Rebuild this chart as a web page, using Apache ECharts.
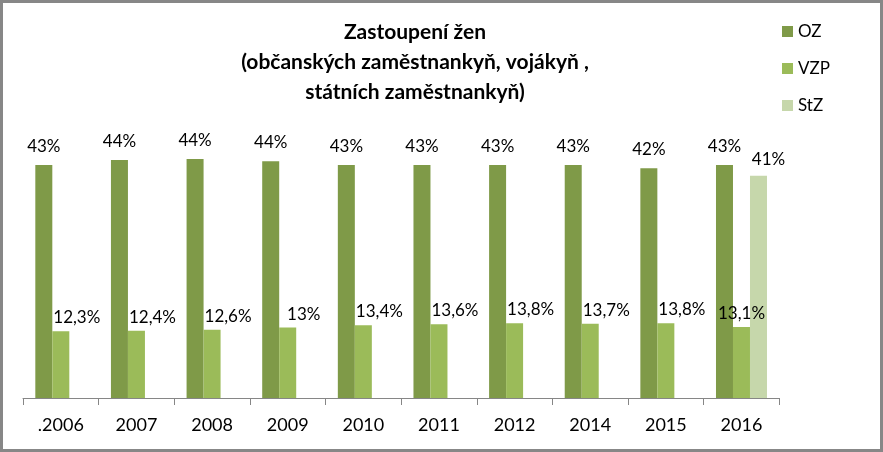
<!DOCTYPE html>
<html>
<head>
<meta charset="utf-8">
<script src="https://cdn.jsdelivr.net/npm/echarts@6/dist/echarts.min.js"></script>
<style>
html,body{margin:0;padding:0;background:#fff;}
#chart{width:883px;height:452px;}
</style>
</head>
<body>
<div id="chart"></div>
<script>
const categories = ['.2006','2007','2008','2009','2010','2011','2012','2014','2015','2016'];
const ozValues = [43.0, 43.9, 44.1, 43.7, 43.0, 43.0, 43.0, 43.0, 42.4, 43.0];
const vzpValues = [12.3, 12.4, 12.6, 13, 13.4, 13.6, 13.8, 13.7, 13.8, 13.1];
const stzValues = [null, null, null, null, null, null, null, null, null, 41];
const seriesNames = ['OZ', 'VZP', 'StZ'];

const FONT = 'Lato, "Open Sans", sans-serif';
const chart = echarts.init(document.getElementById('chart'), null, {renderer: 'canvas'});

const pctRound = p => Math.round(p.value) + '%';
const pctComma = p => String(p.value).replace('.', ',') + '%';

const vzpData = vzpValues.map((v, i) => stzValues[i] != null
  ? {value: v, label: {offset: [0, 0]}}
  : v);

const option = {
  animation: false,
  backgroundColor: '#fff',
  textStyle: {fontFamily: FONT},
  title: {
    text: 'Zastoupení žen\n(občanských zaměstnankyň, vojákyň ,\nstátních zaměstnankyň)',
    left: 410,
    top: 12,
    textAlign: 'center',
    textStyle: {fontFamily: FONT, fontWeight: 'bold', fontSize: 21, lineHeight: 30, color: '#000'}
  },
  legend: {
    orient: 'vertical',
    left: 777,
    top: 18,
    itemWidth: 11,
    itemHeight: 11,
    itemGap: 20,
    icon: 'rect',
    textStyle: {fontFamily: FONT, fontSize: 17, color: '#000', padding: [0, 0, 0, 0]},
    data: seriesNames
  },
  grid: {left: 23, right: 103.7, top: 127, bottom: 54, containLabel: false},
  xAxis: {
    type: 'category',
    data: categories,
    axisLine: {lineStyle: {color: '#868686', width: 1}},
    axisTick: {show: true, length: 7, lineStyle: {color: '#868686'}},
    axisLabel: {fontFamily: FONT, fontSize: 18, color: '#000', margin: 18}
  },
  yAxis: {
    type: 'value', min: 0, max: 50, show: false,
    splitLine: {show: false}
  },
  series: [
    {
      name: seriesNames[0], type: 'bar', data: ozValues, barWidth: 17, barGap: '0%',
      itemStyle: {color: '#7F9A48'},
      label: {show: true, position: 'top', distance: 10, formatter: pctRound,
        fontFamily: FONT, fontSize: 17, color: '#000'}
    },
    {
      name: seriesNames[1], type: 'bar', data: vzpData, barWidth: 17, barGap: '0%',
      itemStyle: {color: '#9BBB59'},
      label: {show: true, position: 'top', distance: 5, offset: [16, 0], formatter: pctComma,
        fontFamily: FONT, fontSize: 17, color: '#000'}
    },
    {
      name: seriesNames[2], type: 'bar', data: stzValues, barWidth: 17, barGap: '0%',
      itemStyle: {color: '#C6D7AB'},
      label: {show: true, position: 'top', distance: 8, offset: [10, 0], formatter: pctRound,
        fontFamily: FONT, fontSize: 17, color: '#000'}
    }
  ],
  graphic: [{
    type: 'rect',
    shape: {x: 1.5, y: 1.5, width: 880, height: 449},
    style: {fill: 'none', stroke: '#878787', lineWidth: 3},
    silent: true, z: 100
  }]
};
chart.setOption(option);
</script>
</body>
</html>
